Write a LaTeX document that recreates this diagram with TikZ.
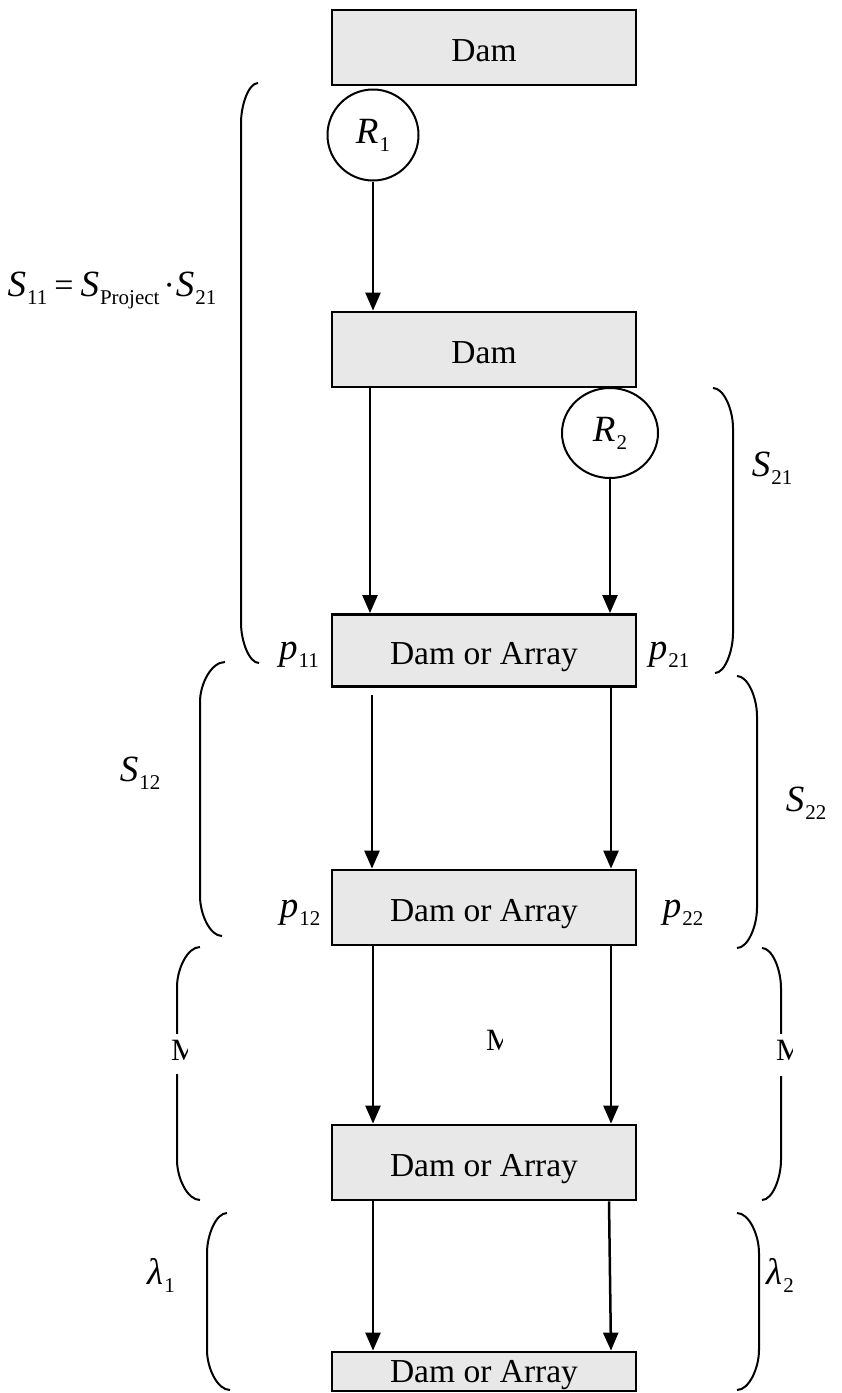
\documentclass[tikz,border=0pt]{standalone}
\usepackage{fontspec}
\setmainfont{Liberation Serif}
\usetikzlibrary{arrows.meta,shapes.geometric}
\definecolor{boxgrey}{RGB}{232,232,232}
\newcommand{\vsym}[2]{{\fontsize{37}{40}\selectfont\itshape #1}\kern1pt\raisebox{-8pt}{\fontsize{21}{24}\selectfont #2}}
\newcommand{\mybrace}[5]{\draw[brc] (#1,#2) .. controls ({#3+0.45*(#1-#3)},#2) and (#3,#2+22) .. (#3,#2+40) -- (#3,#4-40) .. controls (#3,#4-22) and ({#3+0.45*(#5-#3)},#4) .. (#5,#4);}
\begin{document}
\begin{tikzpicture}[x=1pt,y=-1pt,
  damfont/.style={font=\fontsize{33.5}{38}\selectfont},
  dambox/.style={draw,line width=2.8pt,fill=boxgrey,minimum width=304pt,inner sep=0pt,text height=27pt,text depth=0pt,damfont},
  rcirc/.style={draw,line width=2pt,inner sep=0pt},
  arr/.style={line width=2.5pt,-{Triangle[width=15pt,length=18pt]}},
  brc/.style={line width=2pt},
  lab/.style={inner sep=0pt}]
\useasboundingbox (0,0) rectangle (842,1393);
% boxes
\node[dambox,minimum height=75pt] (b1) at (484,47.5) {Dam};
\node[dambox,minimum height=75pt] (b2) at (484,349.5) {Dam};
\node[dambox,minimum height=72pt] (b3) at (484,650.5) {Dam or Array};
\node[dambox,minimum height=75pt] (b4) at (484,907.5) {Dam or Array};
\node[dambox,minimum height=75pt] (b5) at (484,1162.5) {Dam or Array};
\node[dambox,minimum height=39pt,text height=22pt] (b6) at (484,1371.5) {Dam or Array};
% circles
\node[rcirc,circle,minimum size=91pt] (r1) at (373,135) {\vsym{R}{1}};
\node[rcirc,ellipse,minimum width=96pt,minimum height=90pt] (r2) at (610,433) {\vsym{R}{2}};
% arrow columns
\coordinate (lx) at (372,0);
\coordinate (rx) at (611,0);
\draw[arr] (r1.south) -- (b2.north -| r1.south);
\draw[arr] (b2.south -| 370,0) -- (b3.north -| 370,0);
\draw[arr] (r2.south) -- (b3.north -| r2.south);
\draw[arr] ([yshift=-7pt]b3.south -| lx) -- (b4.north -| lx);
\draw[arr] ([yshift=2pt]b3.south -| rx) -- (b4.north -| rx);
\draw[arr] (b4.south -| 373,0) -- (b5.north -| 373,0);
\draw[arr] (b4.south -| rx) -- (b5.north -| rx);
\draw[arr] (b5.south -| 373,0) -- (b6.north -| 373,0);
\draw[arr] (b5.south -| 609,0) -- (b6.north -| rx);
% braces
\mybrace{258}{83}{241}{663}{259}
\mybrace{713}{388}{733}{673}{715}
\mybrace{225}{662}{200}{936}{222}
\mybrace{737}{676}{757}{948}{737}
\mybrace{200}{947}{177}{1200}{200}
\mybrace{762}{948}{781}{1200}{762}
\mybrace{227}{1213}{207}{1390}{230}
\mybrace{737}{1213}{759}{1390}{737}
% labels
\node[lab] (s11) at (112,290) {\vsym{S}{11}\kern7pt{\fontsize{34}{40}\selectfont =}\kern7pt\vsym{S}{Project}\kern4pt{\fontsize{34}{40}\selectfont ·}\kern1pt\vsym{S}{21}};
\node[lab] (s21) at (772,468) {\vsym{S}{21}};
\node[lab] (s12) at (140,773) {\vsym{S}{12}};
\node[lab] (s22) at (806,803) {\vsym{S}{22}};
\node[lab] (p11) at (299,655) {\vsym{p}{11}};
\node[lab] (p21) at (669,655) {\vsym{p}{21}};
\node[lab] (p12) at (300,913) {\vsym{p}{12}};
\node[lab] (p22) at (683,913) {\vsym{p}{22}};
\node[lab] (l1) at (161,1275) {\vsym{λ}{1}};
\node[lab] (l2) at (780,1275) {\vsym{λ}{2}};
% clipped vertical-dots glyphs
\begin{scope}
\clip (165,1034) rectangle (187,1074);
\fill[white] (165,1034) rectangle (187,1074);
\node[lab,anchor=base west,font=\fontsize{31}{34}\selectfont] (m1) at (171,1060) {M};
\end{scope}
\begin{scope}
\clip (480,1015) rectangle (502,1060);
\node[lab,anchor=base west,font=\fontsize{31}{34}\selectfont] (m2) at (486,1050) {M};
\end{scope}
\begin{scope}
\clip (770,1034) rectangle (792,1076);
\fill[white] (770,1034) rectangle (792,1076);
\node[lab,anchor=base west,font=\fontsize{31}{34}\selectfont] (m3) at (776,1060) {M};
\end{scope}
\end{tikzpicture}
\end{document}
